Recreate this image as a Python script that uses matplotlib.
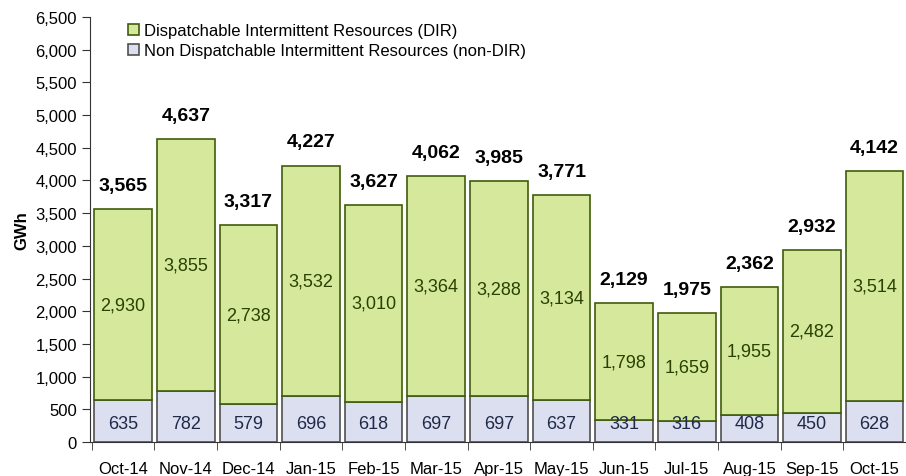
import matplotlib.pyplot as plt
import numpy as np

months = ['Oct-14', 'Nov-14', 'Dec-14', 'Jan-15', 'Feb-15', 'Mar-15', 'Apr-15',
          'May-15', 'Jun-15', 'Jul-15', 'Aug-15', 'Sep-15', 'Oct-15']
non_dir = [635, 782, 579, 696, 618, 697, 697, 637, 331, 316, 408, 450, 628]
dir_vals = [2930, 3855, 2738, 3532, 3010, 3364, 3288, 3134, 1798, 1659, 1955, 2482, 3514]
totals = [3565, 4637, 3317, 4227, 3627, 4062, 3985, 3771, 2129, 1975, 2362, 2932, 4142]

green = '#d5e89c'
green_edge = '#3f5c0a'
lav = '#dcdff0'
lav_edge = '#505050'

plt.rcParams['font.family'] = ['Liberation Sans', 'DejaVu Sans']
plt.rcParams['savefig.bbox'] = 'standard'

fig = plt.figure(figsize=(9.06, 4.77), dpi=100)
ax = fig.add_axes([0.0993, 0.0713, 0.9007, 0.891])

x = np.arange(len(months))
ax.bar(x, non_dir, width=0.92, color=lav, edgecolor=lav_edge, linewidth=1.2,
       label='Non Dispatchable Intermittent Resources (non-DIR)')
ax.bar(x, dir_vals, width=0.92, bottom=non_dir, color=green, edgecolor=green_edge,
       linewidth=1.2, label='Dispatchable Intermittent Resources (DIR)')

for i in x:
    ax.text(i, 280, f'{non_dir[i]:,}', ha='center', va='center', fontsize=13,
            color='#1f2a4a', clip_on=True)
    ax.text(i, non_dir[i] + dir_vals[i] / 2, f'{dir_vals[i]:,}', ha='center',
            va='center', fontsize=13, color='#2a4200', clip_on=True)
    ax.annotate(f'{totals[i]:,}', (i, totals[i]), xytext=(0, 11),
                textcoords='offset points', ha='center', va='bottom',
                fontsize=14, fontweight='bold', color='black', clip_on=True)
    # month labels as text so the last one is cut at the figure edge
    t = ax.text(i, -0.045, months[i], transform=ax.get_xaxis_transform(),
                ha='center', va='top', fontsize=12, color='black')
    t.set_clip_path(None)
    t.set_clip_box(fig.bbox)
    t.set_clip_on(True)

ax.set_xlim(-0.53, 12.32)
ax.set_ylim(0, 6500)
ax.set_yticks(np.arange(0, 6501, 500))
ax.set_yticklabels([f'{v:,}' for v in range(0, 6501, 500)], fontsize=12)
ax.set_xticks(x)
ax.set_xticklabels([''] * len(months))
ax.set_xticks(np.arange(-0.5, 13, 1), minor=True)
ax.tick_params(axis='x', which='major', length=0)
ax.tick_params(axis='x', which='minor', length=6, color='#333333')
ax.tick_params(axis='y', length=6, color='#333333')
ax.set_ylabel('GWh', fontsize=12, fontweight='bold', labelpad=4)

for s in ['top', 'right']:
    ax.spines[s].set_visible(False)
ax.spines['left'].set_color('#333333')
ax.spines['bottom'].set_color('#333333')

h, l = ax.get_legend_handles_labels()
ax.legend(h[::-1], l[::-1], loc='upper left', bbox_to_anchor=(0.028, 1.02),
          frameon=False, fontsize=12, handlelength=0.7, handleheight=0.7,
          handletextpad=0.3, labelspacing=0.3)

fig.canvas.draw()
buf = np.asarray(fig.canvas.buffer_rgba())
plt.imsave('out.png', buf)
